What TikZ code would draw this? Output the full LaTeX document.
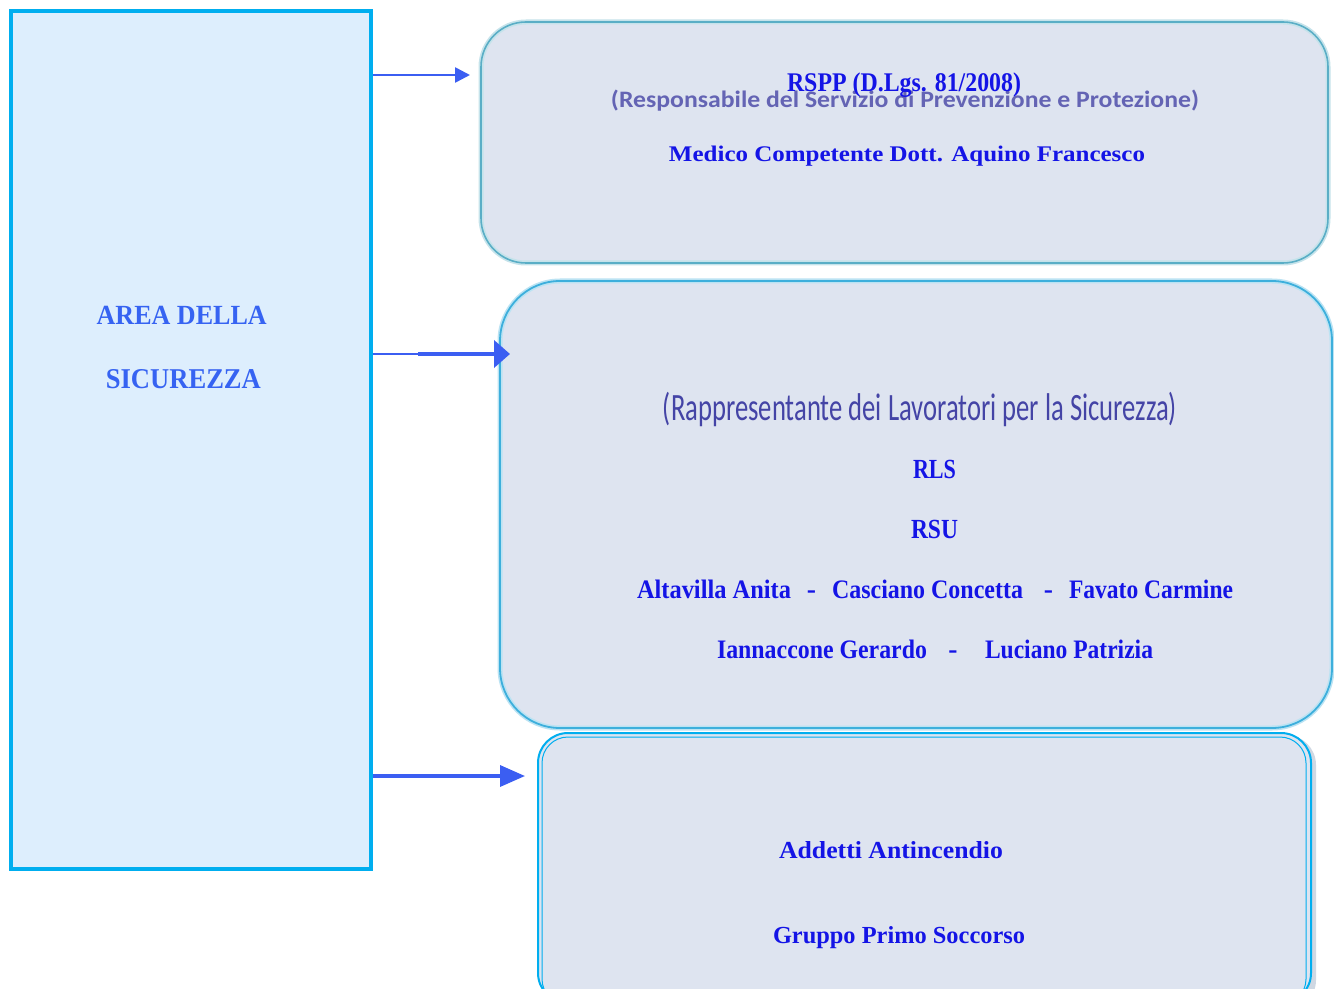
\documentclass[tikz,border=0pt]{standalone}
\usepackage{fontspec}
\setmainfont{Liberation Serif}
\newfontfamily\notesans{Carlito}
\usetikzlibrary{arrows.meta}

% one drawing unit
\newlength\upx
\setlength\upx{0.02cm}
\newcommand\fitbox[3]{\resizebox{#1\upx}{#2\upx}{#3}}

\definecolor{areafill}{HTML}{DDEEFD}
\definecolor{arealine}{HTML}{00AEEF}
\definecolor{areatext}{HTML}{3663F2}
\definecolor{boxfill}{HTML}{DEE4F0}
\definecolor{boxline}{HTML}{5AAEC6}
\definecolor{boxlinetwo}{HTML}{3DAFDC}
\definecolor{shadowgrey}{HTML}{CFD8E3}
\definecolor{namecol}{HTML}{1414E6}
\definecolor{notecol}{HTML}{6464B4}
\definecolor{rlscol}{HTML}{4444A6}
\definecolor{arrowcol}{HTML}{3B5EF2}

\tikzset{
  leftbox/.style={draw=arealine, fill=areafill, line width=4\upx, inner sep=0pt},
  groupbox/.style={fill=boxfill, inner sep=0pt},
  txt/.style={inner sep=0pt, outer sep=0pt, anchor=base, font=\bfseries},
  nametxt/.style={txt, text=namecol},
  dashtxt/.style={txt, text=namecol, font=\bfseries\fontsize{15.7}{18}\selectfont},
  conn/.style={draw=arrowcol},
}

\begin{document}
\begin{tikzpicture}[x=\upx, y=-\upx]
\useasboundingbox (0,0) rectangle (1334,989);
\clip (0,0) rectangle (1334,989);
\fill[white] (0,0) rectangle (1334,989);

% main area
\node[leftbox, minimum width=360\upx, minimum height=858\upx] (area) at (191,440) {};
\node[txt, text=areatext] (areaA) at (181.7,325) {\fitbox{170}{18.3}{AREA DELLA}};
\node[txt, text=areatext] (areaB) at (183.4,388.3) {\fitbox{155}{19}{SICUREZZA}};

% group 1: RSPP and doctor
\node[groupbox, rounded corners=45\upx, minimum width=847\upx, minimum height=241\upx,
      draw=boxline!35, line width=5\upx] (g1) at (904.5,142.5) {};
\node[rounded corners=45\upx, minimum width=847\upx, minimum height=241\upx,
      draw=boxline, line width=1.6\upx, inner sep=0pt] (g1f) at (904.5,142.5) {};
\node[txt, text=notecol, font=\notesans\bfseries] (rsppnote) at (905,107.5)
  {\fitbox{588}{17.5}{(Responsabile del Servizio di Prevenzione e Protezione)}};
\node[nametxt] (rspp) at (904,91.7) {\fitbox{234}{18.7}{RSPP (D.Lgs. 81/2008)}};
\node[nametxt] (medico) at (907,161.7) {\fitbox{476}{15.5}{Medico Competente Dott. Aquino Francesco}};

% group 2: workers' representatives
\node[groupbox, rounded corners=60\upx, minimum width=832\upx, minimum height=447\upx,
      draw=boxlinetwo!35, line width=5\upx] (g2) at (916,504.5) {};
\node[rounded corners=60\upx, minimum width=832\upx, minimum height=447\upx,
      draw=boxlinetwo, line width=1.8\upx, inner sep=0pt] (g2f) at (916,504.5) {};
\node[txt, text=rlscol, font=\notesans] (rlsnote) at (920,420)
  {\fitbox{514}{28.3}{(Rappresentante dei Lavoratori per la Sicurezza)}};
\node[nametxt] (rls) at (934.5,478.3) {\fitbox{43}{18.3}{RLS}};
\node[nametxt] (rsu) at (934.5,538.3) {\fitbox{47}{18.3}{RSU}};
\node[nametxt] (n1) at (714,598.3) {\fitbox{154}{18.5}{Altavilla Anita}};
\node[dashtxt] (d1) at (811.5,598.3) {-};
\node[nametxt] (n2) at (927.5,598.3) {\fitbox{191}{18.5}{Casciano Concetta}};
\node[dashtxt] (d2) at (1048.5,598.3) {-};
\node[nametxt] (n3) at (1151,598.3) {\fitbox{164}{18.5}{Favato Carmine}};
\node[nametxt] (n4) at (822,658.3) {\fitbox{210}{18.5}{Iannaccone Gerardo}};
\node[dashtxt] (d3) at (953,658.3) {-};
\node[nametxt] (n5) at (1069,658.3) {\fitbox{168}{18.5}{Luciano Patrizia}};

% group 3: fire and first aid teams
\fill[shadowgrey, rounded corners=30\upx] (543,735) rectangle (1316,1010);
\node[groupbox, rounded corners=30\upx, minimum width=773\upx, minimum height=270\upx,
      draw=arealine, line width=2\upx, anchor=north west] (g3) at (537,732) {};
\draw[arealine, line width=1\upx, rounded corners=26\upx] (542,737) rectangle (1306,1005);
\node[nametxt] (fire) at (891,858.3) {\fitbox{224}{17}{Addetti Antincendio}};
\node[nametxt] (aid) at (899,943.3) {\fitbox{252}{17}{Gruppo Primo Soccorso}};

% connectors
\coordinate (tip1) at (470,75);
\coordinate (mid2) at (418,354);
\coordinate (tip2) at (510,354);
\coordinate (tip3) at (525,776);
\draw[conn, line width=2.6\upx, -{Triangle[length=0.3cm, width=0.3cm]}]
  (area.east |- tip1) -- (tip1);
\draw[conn, line width=2\upx] (area.east |- mid2) -- (mid2);
\draw[conn, line width=4.5\upx, -{Triangle[length=0.32cm, width=0.54cm]}]
  (mid2) -- (tip2);
\draw[conn, line width=3.4\upx, -{Triangle[length=0.5cm, width=0.42cm]}]
  (area.east |- tip3) -- (tip3);
\end{tikzpicture}
\end{document}
